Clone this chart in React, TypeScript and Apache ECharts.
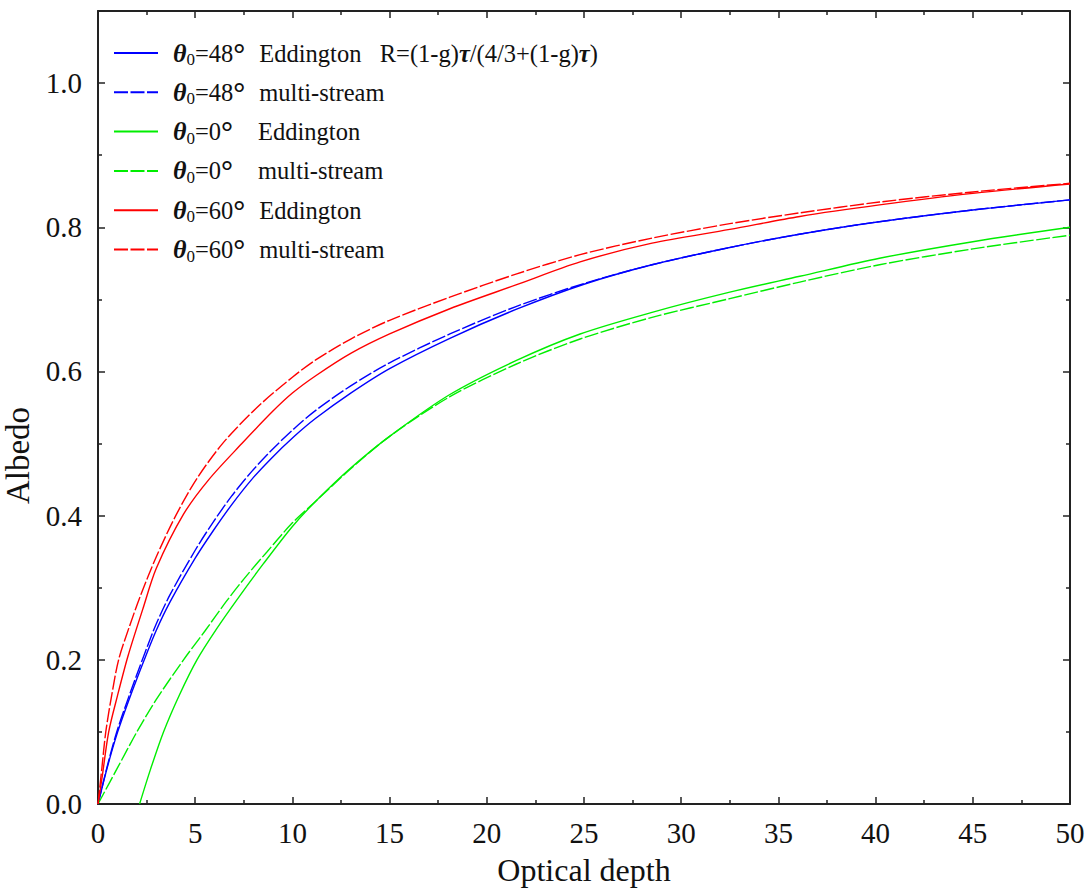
import React, { useEffect, useRef } from "react";
import * as echarts from "echarts";

// ---- data ----
const tauBlue = [0, 0.5, 1, 1.6, 2.35, 3, 3.7, 5, 5.9, 6.9, 7.9, 8.9, 10.1, 11.2, 13, 15, 18.1, 21.5, 25, 28.5, 32.5, 36, 40, 45, 50];
const blueEddington = [0, 0.053, 0.099, 0.145, 0.198, 0.241, 0.28, 0.341, 0.378, 0.416, 0.45, 0.479, 0.51, 0.535, 0.57, 0.604, 0.646, 0.686, 0.721, 0.748, 0.772, 0.79, 0.807, 0.824, 0.838];
const blueMulti = [0, 0.055, 0.103, 0.15, 0.205, 0.25, 0.29, 0.352, 0.39, 0.428, 0.461, 0.49, 0.521, 0.546, 0.58, 0.612, 0.652, 0.69, 0.722, 0.748, 0.772, 0.79, 0.807, 0.824, 0.838];

const tauGreenEdd = [2.14, 2.7, 3.37, 4.2, 5.09, 6.1, 7.19, 8.5, 10, 11.2, 13, 15, 18.1, 21.5, 24.8, 28.5, 32.5, 36.1, 40.2, 45, 50];
const greenEddington = [0, 0.048, 0.1, 0.152, 0.2, 0.243, 0.285, 0.333, 0.385, 0.42, 0.466, 0.51, 0.568, 0.615, 0.652, 0.682, 0.71, 0.732, 0.757, 0.78, 0.8];
const tauGreenMulti = [0, 1, 2, 3, 4.4, 5.5, 6.6, 7.5, 8.7, 10, 11.2, 13, 15, 18.1, 21.5, 24.8, 28.5, 32.5, 36.1, 40.2, 45, 50];
const greenMulti = [0, 0.05, 0.1, 0.145, 0.2, 0.24, 0.281, 0.312, 0.35, 0.39, 0.42, 0.465, 0.51, 0.565, 0.61, 0.645, 0.675, 0.701, 0.724, 0.748, 0.77, 0.789];

const tauRedEdd = [0, 0.2, 0.55, 1.0, 1.54, 2.3, 3, 4.4, 5.7, 7.4, 9, 10, 11.2, 13, 15, 18.1, 21.5, 24.8, 28.5, 32.5, 36.1, 40.2, 45, 50];
const redEddington = [0, 0.035, 0.1, 0.15, 0.205, 0.27, 0.327, 0.402, 0.45, 0.5, 0.545, 0.57, 0.594, 0.625, 0.652, 0.687, 0.72, 0.752, 0.778, 0.797, 0.815, 0.831, 0.847, 0.86];
const tauRedMulti = [0, 0.2, 0.4, 0.7, 1.06, 1.6, 2.2, 3, 4, 5.1, 6.5, 8.3, 10, 11.2, 13, 15, 18.1, 21.5, 24.8, 28.5, 32.5, 36.1, 40.2, 45, 50];
const redMulti = [0, 0.05, 0.1, 0.15, 0.2, 0.245, 0.29, 0.343, 0.4, 0.452, 0.503, 0.553, 0.592, 0.616, 0.645, 0.671, 0.703, 0.735, 0.762, 0.785, 0.805, 0.82, 0.835, 0.849, 0.861];

const seriesNames = [
  "θ0=48° Eddington",
  "θ0=48° multi-stream",
  "θ0=0° Eddington",
  "θ0=0° multi-stream",
  "θ0=60° Eddington",
  "θ0=60° multi-stream",
];

const legendRich: Record<string, string> = {
  "θ0=48° Eddington": "{th|θ}{sub|0}{t|=48}{deg2|°}{t|Eddington   R=(1-g)}{tau|τ}{t|/(4/3+(1-g)}{tau|τ}{t|)}",
  "θ0=48° multi-stream": "{th|θ}{sub|0}{t|=48}{deg2|°}{t|multi-stream}",
  "θ0=0° Eddington": "{th|θ}{sub|0}{t|=0}{deg1|°}{t|Eddington}",
  "θ0=0° multi-stream": "{th|θ}{sub|0}{t|=0}{deg1|°}{t|multi-stream}",
  "θ0=60° Eddington": "{th|θ}{sub|0}{t|=60}{deg2|°}{t|Eddington}",
  "θ0=60° multi-stream": "{th|θ}{sub|0}{t|=60}{deg2|°}{t|multi-stream}",
};

const FONT = "Liberation Serif";
const AXIS_COLOR = "#222";

function pairs(xs: number[], ys: number[]) {
  return xs.map((x, i) => [x, ys[i]]);
}

export default function App() {
  const ref = useRef<HTMLDivElement>(null);

  useEffect(() => {
    if (!ref.current) return;
    const chart = echarts.init(ref.current, null, { renderer: "svg" });

    const mk = (name: string, data: number[][], color: string, dashed: boolean) => ({
      name,
      type: "line",
      data,
      xAxisIndex: 0,
      yAxisIndex: 0,
      symbol: "none",
      showSymbol: false,
      smooth: 0.3,
      clip: true,
      lineStyle: { color, width: 1.4, type: dashed ? [14, 2.5] : "solid" },
      itemStyle: { color },
    });

    const tickStyle = { color: AXIS_COLOR, width: 1.5 };
    const lineStyle = { color: AXIS_COLOR, width: 2 };

    const xBase = {
      type: "value",
      min: 0,
      max: 50,
      interval: 5,
      splitLine: { show: false },
      axisLine: { show: true, onZero: false, lineStyle },
      axisTick: { show: true, inside: true, length: 7, lineStyle: tickStyle },
      minorTick: { show: true, splitNumber: 2, length: 4, lineStyle: tickStyle },
    };
    const yBase = {
      type: "value",
      min: 0,
      max: 1.1,
      interval: 0.2,
      splitLine: { show: false },
      axisLine: { show: true, onZero: false, lineStyle },
      axisTick: { show: true, inside: true, length: 7, lineStyle: tickStyle },
      minorTick: { show: true, splitNumber: 2, length: 4, lineStyle: tickStyle },
    };

    const mainText = { fontFamily: FONT, fontSize: 24.5, color: "#111", lineHeight: 30 };

    chart.setOption({
      animation: false,
      backgroundColor: "#fff",
      textStyle: { fontFamily: FONT },
      grid: { left: 98, right: 21, top: 11, bottom: 85, containLabel: false, outerBoundsMode: "none" },
      legend: {
        show: true,
        orient: "vertical",
        left: 113,
        top: 38,
        padding: 0,
        itemWidth: 44,
        itemHeight: 14,
        itemGap: 9.3,
        data: seriesNames,
        itemStyle: { opacity: 0, borderWidth: 0 },
        formatter: (name: string) => legendRich[name] || name,
        textStyle: {
          ...mainText,
          padding: [0, 0, 0, 10],
          rich: {
            t: { ...mainText },
            th: { fontFamily: FONT, fontSize: 26, fontStyle: "italic", fontWeight: "bold", color: "#111", lineHeight: 30 },
            tau: { fontFamily: FONT, fontSize: 24.5, fontStyle: "italic", fontWeight: "bold", color: "#111", lineHeight: 30 },
            sub: { fontFamily: FONT, fontSize: 17, color: "#111", lineHeight: 17, verticalAlign: "bottom" },
            deg2: { fontFamily: FONT, fontSize: 30, fontWeight: "bold", color: "#111", lineHeight: 15, verticalAlign: "top", width: 26 },
            deg1: { fontFamily: FONT, fontSize: 30, fontWeight: "bold", color: "#111", lineHeight: 15, verticalAlign: "top", width: 37 },
          },
        },
      },
      xAxis: [
        {
          ...xBase,
          position: "bottom",
          name: "Optical depth",
          nameLocation: "middle",
          nameGap: 50,
          nameTextStyle: { fontFamily: FONT, fontSize: 32, color: "#111" },
          axisLabel: { show: true, fontFamily: FONT, fontSize: 29, color: "#111", margin: 14 },
        },
        {
          ...xBase,
          position: "top",
          axisLabel: { show: false },
        },
      ],
      yAxis: [
        {
          ...yBase,
          position: "left",
          name: "Albedo",
          nameLocation: "middle",
          nameGap: 32,
          nameTextStyle: { fontFamily: FONT, fontSize: 33, color: "#111", padding: [0, 96, 0, 0] },
          axisLabel: {
            show: true,
            fontFamily: FONT,
            fontSize: 29,
            color: "#111",
            margin: 16,
            formatter: (v: number) => (v > 1.05 ? "" : v.toFixed(1)),
          },
        },
        {
          ...yBase,
          position: "right",
          axisLabel: { show: false },
        },
      ],
      series: [
        mk(seriesNames[0], pairs(tauBlue, blueEddington), "#0000ff", false),
        mk(seriesNames[1], pairs(tauBlue, blueMulti), "#0000ff", true),
        mk(seriesNames[2], pairs(tauGreenEdd, greenEddington), "#00ee00", false),
        mk(seriesNames[3], pairs(tauGreenMulti, greenMulti), "#00ee00", true),
        mk(seriesNames[4], pairs(tauRedEdd, redEddington), "#ff0000", false),
        mk(seriesNames[5], pairs(tauRedMulti, redMulti), "#ff0000", true),
      ],
    });

    return () => chart.dispose();
  }, []);

  return (
    <>
      <style>{`#root svg text, #root svg tspan { font-family: "Liberation Serif", serif !important; }`}</style>
      <div
        ref={ref}
        style={{ position: "fixed", left: 0, top: 0, width: 1091, height: 889, background: "#fff" }}
      />
    </>
  );
}
